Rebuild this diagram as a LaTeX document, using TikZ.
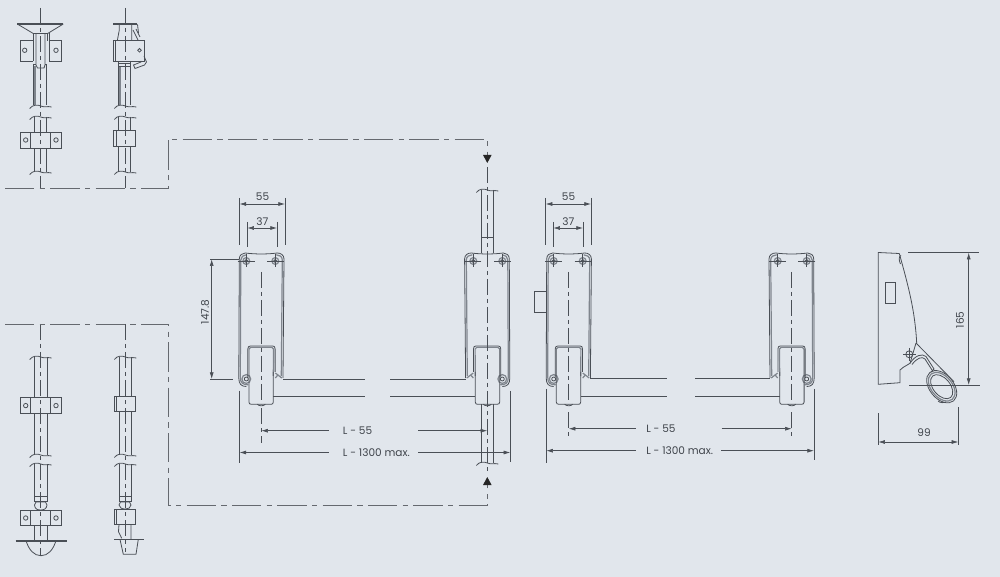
\documentclass[tikz,border=0pt]{standalone}
\usepackage{fontspec}
\setmainfont{Poppins}
\usetikzlibrary{arrows.meta}
\definecolor{bgc}{HTML}{E1E6EC}
\definecolor{ink}{HTML}{4A4F56}
\definecolor{wallc}{HTML}{7F858D}
\definecolor{txt}{HTML}{3F444B}
\tikzset{
  ln/.style={draw=ink,line width=0.6pt},
  wall/.style={draw=wallc,line width=0.9pt},
  heavy/.style={draw=ink,line width=1.5pt},
  center/.style={draw=ink,line width=0.55pt,dash pattern=on 12pt off 3pt on 3pt off 3pt},
  chain/.style={draw=ink!85,line width=0.7pt,dash pattern=on 22pt off 4pt on 4pt off 4pt},
  dim/.style={draw=ink,line width=0.5pt},
  dimboth/.style={dim,{Latex[length=5pt,width=3pt]}-{Latex[length=5pt,width=3pt]}},
  dimstart/.style={dim,{Latex[length=5pt,width=3pt]}-},
  dimend/.style={dim,-{Latex[length=5pt,width=3pt]}},
  lab/.style={text=txt,font=\fontsize{7.9pt}{10pt}\selectfont,inner sep=0pt},
  tri/.style={fill=black!85,draw=none},
}
% wavy break mark: x, y, half width
\newcommand\brk[3]{\draw[ln] (#1-#3,#2+2.5) .. controls (#1-#3+3,#2-1.5) and (#1-3,#2-1.5) .. (#1,#2) .. controls (#1+3,#2+1.5) and (#1+#3-4,#2) .. (#1+#3,#2+1);}
% screw with crosshair, at local x, y
\newcommand\screw[2]{\draw[wall] (#1,#2) circle[radius=3.4];\draw[ln] (#1,#2) circle[radius=1.6];\draw[dim] (#1,#2-6.5)--(#1,#2+6.5);}
% lock body: centre x, xscale sign
\newcommand\lockbody[2]{%
\begin{scope}[shift={(#1,0)},xscale=#2]
  \draw[ln] (-15,386.5) .. controls (-20,386.5) and (-22.5,384) .. (-22.5,378) -- (-22,259) .. controls (-22,255) and (-19,253) .. (-16,253) .. controls (-6,254.3) and (6,254.3) .. (16,253) .. controls (19.5,253) and (22.7,255) .. (22.7,259) -- (21.7,378);
  \draw[wall] (-13,384.8) .. controls (-18.5,384.8) and (-21,383) .. (-21,377) -- (-20.5,260) .. controls (-20.5,257) and (-18,254.8) .. (-15,254.8);
  \draw[wall] (15,254.8) .. controls (18,254.8) and (21,256.5) .. (21,260) -- (20,376);
  \screw{-15}{261}\screw{14}{261}
  \draw[dim] (-23.6,261)--(-6.3,261) (6,261)--(23,261);
  \draw[wall] (-15,379) circle[radius=4.4];
  \draw[ln] (-15,379) circle[radius=2];
  \draw[ln] (-13.5,377) -- (-13.5,349) .. controls (-13.5,347) and (-12.5,346) .. (-11,346) -- (11.5,346) .. controls (13,346) and (13.8,347) .. (13.8,349) -- (13.8,372);
  \draw[wall] (-12.4,349) .. controls (-12.4,348) and (-11.5,347.3) .. (-10.5,347.3) -- (10.5,347.3) .. controls (11.5,347.3) and (12.2,348) .. (12.2,349) -- (12,376);
  \draw[ln] (-12.4,349) -- (-12.4,402) .. controls (-12.4,403.5) and (-11.5,404.3) .. (-10,404.3) -- (10,404.3) .. controls (11,404.3) and (12,403.5) .. (12,402) -- (12,372);
  \draw[ln] (-4,404.3) .. controls (-2,406.3) and (2,406.3) .. (4,404.3);
  \draw[wall] (14,373) -- (20.5,378) (14,378) -- (17,374.5);
\end{scope}}
\begin{document}
\begin{tikzpicture}[x=0.75pt,y=-0.75pt]
\useasboundingbox[fill=bgc] (0,0) rectangle (1000,577);

%%% top-left A
\draw[center] (40.7,8)--(40.7,188);
\draw[heavy,line width=1.2pt] (17.3,24)--(63.3,24);
\draw[ln] (17.3,24)--(33.3,33.5)--(47.7,33.5)--(63.3,24);
\draw[ln] (36,33.5)--(36,65)--(37.5,68)--(44,68)--(45,65)--(45,33.5);
\draw[ln] (33.3,40.7)--(20,40.7)--(20,61)--(33.3,61) (49.3,40.7)--(61,40.7)--(61,61)--(49.3,61);
\draw[ln] (33.3,33.5)--(33.3,61) (49.3,33.5)--(49.3,61) (47.7,33.5)--(47.7,40.7);
\draw[ln] (24.7,50.3) circle[radius=2.2] (56,50.3) circle[radius=2.2];
\draw[ln] (33.3,64)--(33.3,105) (46.7,64)--(46.7,105) (33.3,64)--(36,64) (45,64)--(46.7,64);
\draw[wall] (35,66)--(35,105);
\brk{40.7}{106}{11}
\brk{40.7}{117}{11}
\draw[ln] (34.3,117)--(34.3,132.7) (46.7,117)--(46.7,132.7);
\draw[ln] (20,132.7) rectangle (61,148.3);
\draw[ln] (30.7,132.7)--(30.7,148.3) (50.7,132.7)--(50.7,148.3);
\draw[ln] (25.7,140) circle[radius=2.2] (56,140) circle[radius=2.2];
\draw[ln] (34.3,148.3)--(34.3,172) (46.7,148.3)--(46.7,172);
\brk{40.7}{172}{11}

%%% top-left B
\draw[center] (125.3,8)--(125.3,188);
\draw[heavy,line width=1.2pt] (113,24.3)--(137,24.3);
\draw[ln] (137.5,24.3)--(138.5,33);
\draw[ln] (119.3,25)--(119.3,30)--(117.3,40.7) (131.7,25)--(131.7,40.7);
\draw[ln] (113.3,40.7) rectangle (144,61);
\draw[ln] (115,40.7)--(115,61);
\draw[ln] (139.5,50.3) circle[radius=1.8];
\draw[ln] (133,30)--(138,40) (136,29)--(140,37);
\draw[ln] (144,56)--(146.5,62)--(144.5,65)--(135,68.5)--(133.5,65)--(141,62)--(141,61);
\draw[ln] (118.3,61)--(118.3,66) (130.7,61)--(130.7,66) (118.3,63)--(130.7,63) (118.3,66)--(130.7,66);
\draw[ln] (118.3,66)--(118.3,105) (130.7,66)--(130.7,105);
\draw[wall] (120,67)--(120,105);
\brk{125.3}{106}{11}
\brk{125.3}{117}{11}
\draw[ln] (118.3,117)--(118.3,130.7) (130.7,117)--(130.7,130.7);
\draw[ln] (113.3,130.7) rectangle (135,146.7);
\draw[ln] (116.7,130.7)--(116.7,146.7);
\draw[ln] (118.3,146.7)--(118.3,172) (130.7,146.7)--(130.7,172);
\brk{125.3}{172}{11}

%%% bottom-left C
\draw[center] (40.7,324)--(40.7,555);
\brk{40.7}{357}{11}
\draw[ln] (34.3,357)--(34.3,397.7) (47.3,357)--(47.3,397.7) (34.3,413.3)--(34.3,455) (47.3,413.3)--(47.3,455);
\draw[ln] (20,397.7) rectangle (61,413.3);
\draw[ln] (30.7,397.7)--(30.7,413.3) (50.7,397.7)--(50.7,413.3);
\draw[ln] (25.7,405.6) circle[radius=2.2] (56,405.6) circle[radius=2.2];
\brk{40.7}{455}{11}
\brk{40.7}{464}{11}
\draw[ln] (34.3,464)--(34.3,496) (47.3,464)--(47.3,496);
\draw[ln] (34.3,496) rectangle (47.3,501);
\draw[ln] (36,502)--(34.5,505) .. controls (35,509) and (37,510) .. (40.7,510) .. controls (44,510) and (46.5,509) .. (47,505)--(45.5,502)--cycle;
\draw[ln] (20,510) rectangle (61,525.7);
\draw[ln] (30.7,510)--(30.7,525.7) (50.7,510)--(50.7,525.7);
\draw[ln] (25.7,518) circle[radius=2.2] (56,518) circle[radius=2.2];
\draw[ln] (34.3,525.7)--(34.3,540.7) (47.3,525.7)--(47.3,540.7);
\draw[heavy,line width=1.2pt] (15.7,540.7)--(66.7,540.7);
\draw[ln] (26,540.7) .. controls (29,550) and (34,555.7) .. (41,555.7) .. controls (48,555.7) and (53,550) .. (56,540.7);

%%% bottom-left D
\draw[center] (125.3,324)--(125.3,552);
\brk{125.3}{357}{11}
\draw[ln] (119,357)--(119,396) (131,357)--(131,396) (119,411.3)--(119,455) (131,411.3)--(131,455);
\draw[ln] (114.3,396) rectangle (135.3,411.3);
\draw[ln] (116.7,396)--(116.7,411.3);
\brk{125.3}{455}{11}
\brk{125.3}{464}{11}
\draw[ln] (119,464)--(119,496) (131,464)--(131,496);
\draw[ln] (119,496) rectangle (131,501);
\draw[ln] (120.5,502)--(119,505) .. controls (119.5,508) and (122,509) .. (125.3,509) .. controls (128.5,509) and (130.5,508) .. (131,505)--(129.5,502)--cycle;
\draw[ln] (114.3,509) rectangle (135.3,524.3);
\draw[ln] (116.7,509)--(116.7,524.3);
\draw[ln] (119,524.3)--(118.5,531.7)--(121.7,538.3) (131,524.3)--(131,539.3);
\draw[heavy,line width=1.2pt] (114,539.3)--(144.3,539.3);
\draw[ln] (120,539.3)--(123.3,554.3)--(136,554.3)--(138.3,539.3);

%%% chain lines
\draw[chain] (5,188)--(168,188)--(168,139)--(487.3,139)--(487.3,155);
\draw[chain] (5,324)--(168,324)--(168,505)--(487.3,505)--(487.3,485);
\fill[tri] (483,155)--(491.6,155)--(487.3,163)--cycle;
\fill[tri] (483,485)--(491.6,485)--(487.3,477)--cycle;

%%% lock bodies
\lockbody{261.3}{1}
\lockbody{487.3}{-1}
\lockbody{568.7}{1}
\lockbody{791.7}{-1}

%%% centre lines of the bodies
\draw[center] (261.3,272)--(261.3,404) (261.3,408)--(261.3,443);
\draw[center] (487.3,167)--(487.3,473);
\draw[center] (568.7,272)--(568.7,404) (568.7,412)--(568.7,437.7);
\draw[center] (791.7,272)--(791.7,404) (791.7,412)--(791.7,437);

%%% bars
\draw[ln] (283,379)--(365,379) (273.3,396.5)--(365,396.5);
\draw[ln] (390,379)--(465.5,379) (390,396.5)--(475.3,396.5);
\draw[ln] (590,378.5)--(667,378.5) (581,396)--(667,396);
\draw[ln] (695,378.5)--(770,378.5) (695,396)--(779.7,396);

%%% rod through the second body
\draw[ln] (481.7,190)--(481.7,253.5) (493.7,190)--(493.7,253.5) (481.7,237.7)--(493.7,237.7);
\draw[ln] (481.7,404)--(481.7,463) (493.7,404)--(493.7,463);
\brk{487.3}{190}{11}
\brk{487.3}{463}{11}

%%% latch of the third body
\draw[ln] (534.3,291) rectangle (546.4,312);

%%% dimensions 55 / 37, first
\draw[dim] (239.5,198)--(239.5,245) (285,198)--(285,245);
\draw[dimboth] (239.5,204)--(285,204);
\node[lab] (a55) at (262.5,197) {55};
\draw[dim] (247.3,222)--(247.3,247) (277,222)--(277,247);
\draw[dimboth] (247.3,228)--(277,228);
\node[lab] (a37) at (262.3,221.5) {37};
%%% 147.8
\draw[dim] (210,259.3)--(239,259.3) (210,379)--(233,379);
\draw[dimboth] (211.7,259.3)--(211.7,379);
\node[lab,rotate=90] (a147) at (205,311.7) {147.8};
%%% L dims, first pair
\draw[dim] (239.5,390.7)--(239.5,463) (510.3,391)--(510.3,461.7);
\draw[dimstart] (261.3,430.7)--(329,430.7);
\node[lab,anchor=west] (l55a) at (342.7,430.7) {L - 55};
\draw[dimend] (418,430.7)--(487.3,430.7);
\draw[dimstart] (239.5,452.5)--(329,452.5);
\node[lab,anchor=west] (l13a) at (342.7,452.5) {L - 1300 max.};
\draw[dimend] (418,452.5)--(510.3,452.5);

%%% dimensions 55 / 37, second
\draw[dim] (545.7,198)--(545.7,245) (591,198)--(591,245);
\draw[dimboth] (545.7,204)--(591,204);
\node[lab] (b55) at (568.5,197) {55};
\draw[dim] (553.3,222)--(553.3,247) (583,222)--(583,247);
\draw[dimboth] (553.3,228)--(583,228);
\node[lab] (b37) at (568.3,221.5) {37};
%%% L dims, second pair
\draw[dim] (546.3,389)--(546.3,463) (814,389)--(814,460);
\draw[dimstart] (568.7,428.7)--(636,428.7);
\node[lab,anchor=west] (l55b) at (646,428.7) {L - 55};
\draw[dimend] (721.7,428.7)--(791.7,428.7);
\draw[dimstart] (546.3,450.7)--(636,450.7);
\node[lab,anchor=west] (l13b) at (646,450.7) {L - 1300 max.};
\draw[dimend] (721,450.7)--(814,450.7);

%%% side view
\draw[ln] (899.3,253.5)--(878.3,252.5)--(878.3,384.3)--(900,382.7)--(900,370)--(903.3,367.3)--(910,363.3)--(916,343);
\draw[ln] (899.3,253.5) .. controls (908,285) and (915,310) .. (916.7,343.3);
\draw[ln] (900.5,264) .. controls (898.5,260) and (899,256) .. (901,255.5);
\draw[ln] (885,282.3) rectangle (895.7,303.3);
\draw[ln] (909.3,354.3) circle[radius=3.5];
\draw[dim] (903,354.3)--(916,354.3) (909.3,348)--(909.3,361);
\draw[ln] (916,343) -- (954,381.7);
\draw[ln] (910,363.3) .. controls (915,355.5) and (922,353) .. (926,356.5) -- (934,369) -- (931,372);
\draw[ln] (912,364.5) .. controls (917,358) and (922,356) .. (925,359) -- (932,370);
\draw[ln] (941.7,386.7) circle[x radius=18.5,y radius=12,rotate=-50];
\draw[wall] (941.7,386.7) circle[x radius=16.5,y radius=10.5,rotate=-50];
\draw[ln] (941.7,386.7) circle[x radius=14,y radius=8.5,rotate=-50];
\draw[ln] (938,401) .. controls (940,403) and (944,403) .. (946,402);
%%% 165
\draw[dim] (908,252.7)--(979,252.7) (909.3,385)--(979.7,385);
\draw[dimboth] (968.7,252.7)--(968.7,385);
\node[lab,rotate=90] (c165) at (960,320) {165};
%%% 99
\draw[dim] (878.3,413.3)--(878.3,445) (958.3,407.3)--(958.3,445);
\draw[dimboth] (878.3,442)--(958.3,442);
\node[lab] (c99) at (924,433) {99};
\end{tikzpicture}
\end{document}
